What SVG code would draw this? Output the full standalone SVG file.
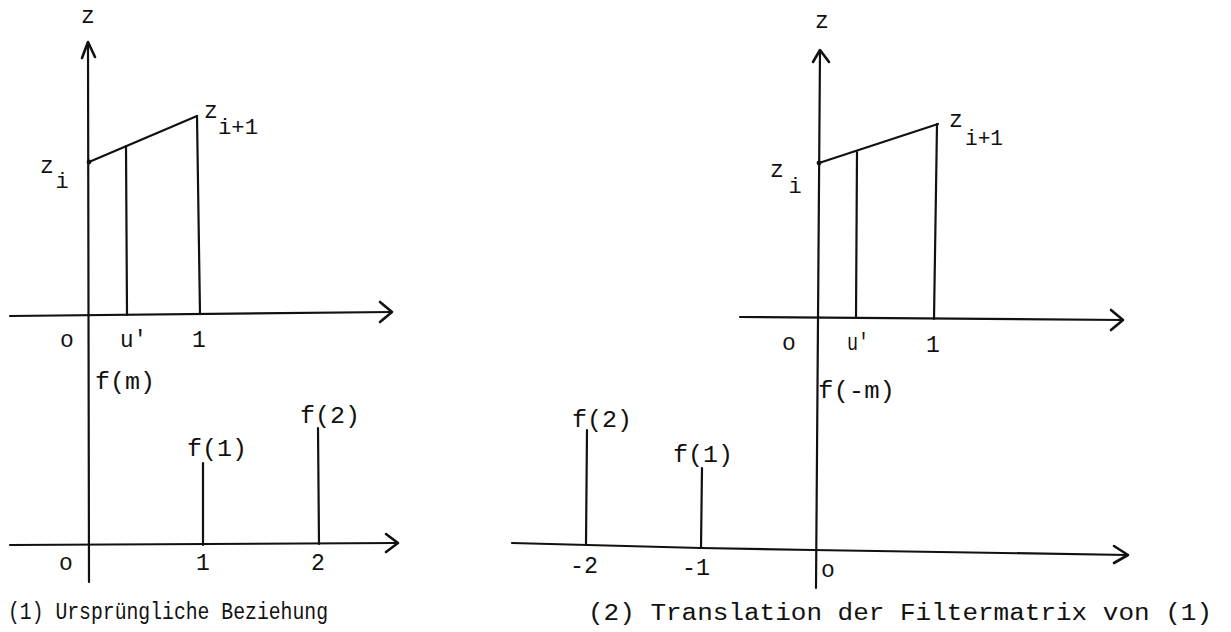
<svg xmlns="http://www.w3.org/2000/svg" width="1231" height="632" viewBox="0 0 1231 632">
<style>
.ln{stroke:#111;stroke-width:2.2;fill:none;stroke-linecap:round;stroke-linejoin:round}
.ah{stroke:#111;stroke-width:2.6;fill:none;stroke-linecap:round;stroke-linejoin:round}
text{font-family:"Liberation Mono","DejaVu Sans Mono",monospace;font-size:23px;fill:#111}
.m{text-anchor:middle}
.s{font-size:22px}
.c1{font-size:23px}
.c2{font-size:23px}
</style>
<rect width="1231" height="632" fill="#fff"/>

<g id="panel1">
  <g id="p1-connectors">
    <line class="ln" x1="88" y1="43" x2="89" y2="582"/>
    <polyline class="ah" points="82,58 88,42 95,57"/>
    <line class="ln" x1="10" y1="316" x2="392" y2="312"/>
    <polyline class="ah" points="380,302 392,312 380,322"/>
    <line class="ln" x1="89" y1="162" x2="197" y2="116"/>
    <circle cx="89" cy="162" r="2.4" fill="#111"/>
    <line class="ln" x1="126" y1="146" x2="127" y2="315"/>
    <line class="ln" x1="197" y1="116" x2="200" y2="314"/>
    <line class="ln" x1="10" y1="545" x2="398" y2="543"/>
    <polyline class="ah" points="386,534 398,543 386,552"/>
    <line class="ln" x1="203" y1="463" x2="203" y2="545"/>
    <line class="ln" x1="318" y1="428" x2="319" y2="544"/>
  </g>
  <g id="p1-labels">
    <text class="m" x="88" y="23">z</text>
    <text class="m" x="47" y="173">z</text>
    <text class="m s" x="62" y="188">i</text>
    <text class="m" x="211" y="118">z</text>
    <text class="s" x="218" y="134" textLength="40" lengthAdjust="spacingAndGlyphs">i+1</text>
    <text class="m" x="67" y="347">o</text>
    <text x="120" y="347" textLength="27" lengthAdjust="spacingAndGlyphs">u'</text>
    <text class="m" x="199" y="347">1</text>
    <text x="95" y="389" textLength="60" lengthAdjust="spacingAndGlyphs">f(m)</text>
    <text x="300" y="423" textLength="60" lengthAdjust="spacingAndGlyphs">f(2)</text>
    <text x="187" y="456" textLength="60" lengthAdjust="spacingAndGlyphs">f(1)</text>
    <text class="m" x="66" y="570">o</text>
    <text class="m" x="203" y="570">1</text>
    <text class="m" x="318" y="570">2</text>
    <text class="c1" x="8" y="619" textLength="320" lengthAdjust="spacingAndGlyphs">(1) Ursprüngliche Beziehung</text>
  </g>
</g>

<g id="panel2">
  <g id="p2-connectors">
    <line class="ln" x1="820" y1="51" x2="816" y2="588"/>
    <polyline class="ah" points="813,62 820,50 829,62"/>
    <line class="ln" x1="740" y1="317" x2="1123" y2="320"/>
    <polyline class="ah" points="1111,310 1123,320 1111,330"/>
    <line class="ln" x1="819" y1="163" x2="938" y2="124"/>
    <circle cx="819" cy="163" r="2.4" fill="#111"/>
    <line class="ln" x1="857" y1="152" x2="856" y2="318"/>
    <line class="ln" x1="937" y1="124" x2="934" y2="319"/>
    <polyline class="ln" points="512,543 701,548 813,550 1128,555"/>
    <polyline class="ah" points="1114,546 1128,555 1114,563"/>
    <line class="ln" x1="587" y1="430" x2="586" y2="545"/>
    <line class="ln" x1="702" y1="468" x2="701" y2="548"/>
  </g>
  <g id="p2-labels">
    <text class="m" x="822" y="28">z</text>
    <text class="m" x="777" y="177">z</text>
    <text class="m s" x="795" y="193">i</text>
    <text class="m" x="956" y="127">z</text>
    <text class="s" x="965" y="145" textLength="38" lengthAdjust="spacingAndGlyphs">i+1</text>
    <text class="m" x="789" y="350">o</text>
    <text x="847" y="350" textLength="22" lengthAdjust="spacingAndGlyphs">u'</text>
    <text class="m" x="933" y="352">1</text>
    <text x="818" y="398" textLength="77" lengthAdjust="spacingAndGlyphs">f(-m)</text>
    <text x="572" y="427" textLength="60" lengthAdjust="spacingAndGlyphs">f(2)</text>
    <text x="673" y="462" textLength="60" lengthAdjust="spacingAndGlyphs">f(1)</text>
    <text x="570" y="573" textLength="28" lengthAdjust="spacingAndGlyphs">-2</text>
    <text x="682" y="575" textLength="28" lengthAdjust="spacingAndGlyphs">-1</text>
    <text class="m" x="828" y="577">o</text>
    <text class="c2" x="588" y="620" textLength="624" lengthAdjust="spacingAndGlyphs">(2) Translation der Filtermatrix von (1)</text>
  </g>
</g>
</svg>
